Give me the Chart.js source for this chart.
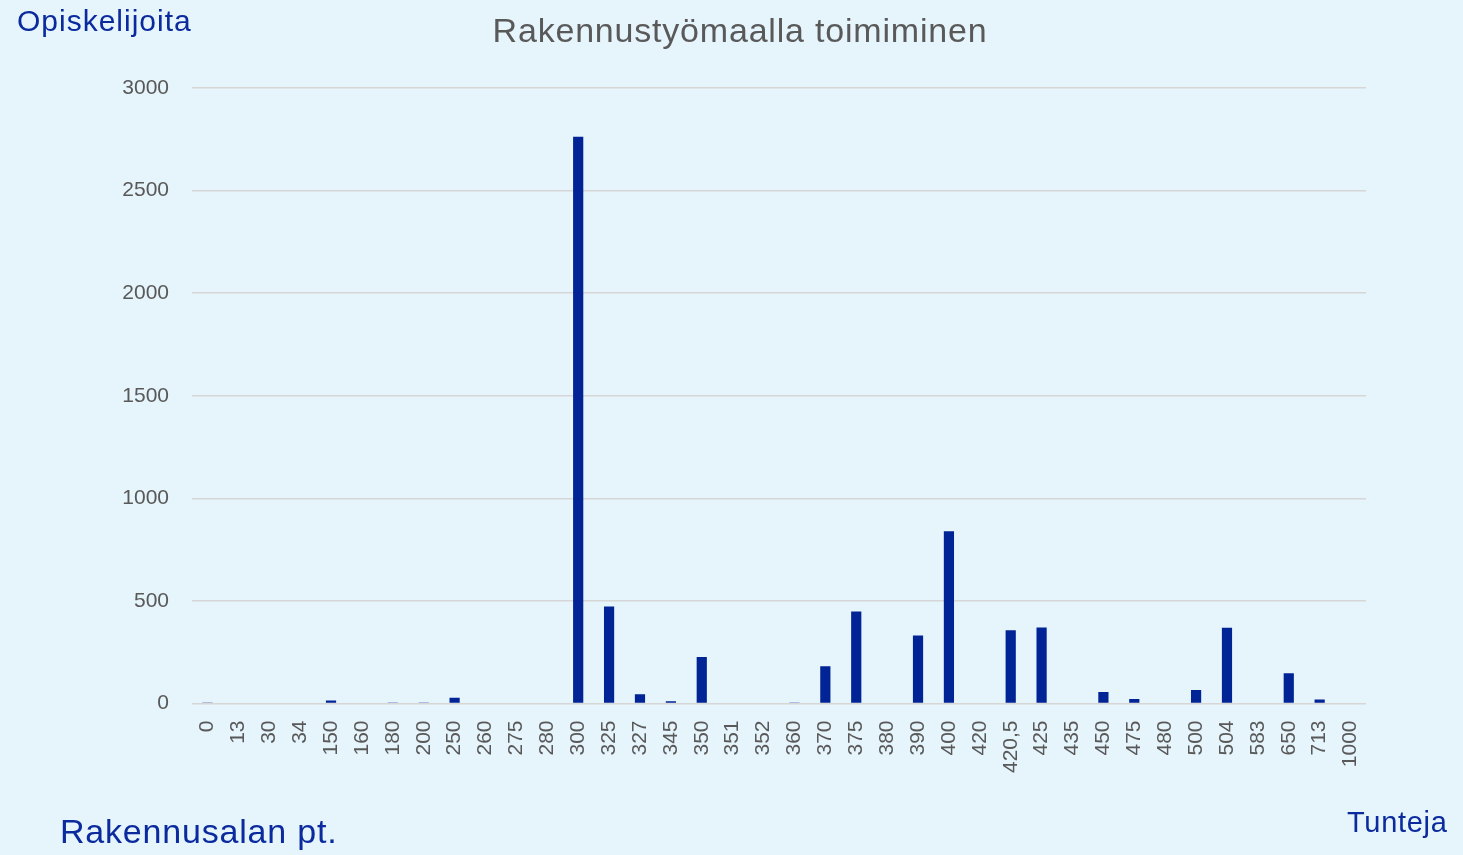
<!DOCTYPE html>
<html>
<head>
<meta charset="utf-8">
<script src="https://cdn.jsdelivr.net/npm/chart.js@4/dist/chart.umd.min.js"></script>
<style>
  html, body { margin: 0; padding: 0; background: #e6f4fc; }
  #wrap { position: relative; width: 1463px; height: 855px; overflow: hidden; background: #e6f4fc; font-family: "Liberation Sans", Arial, sans-serif; }
  #c { position: absolute; left: 0; top: 0; }
  .lbl { position: absolute; white-space: nowrap; line-height: 1; }
  #title { left: 0; width: 1480px; text-align: center; top: 13px; font-size: 34px; letter-spacing: 0.8px; color: #595959; }
  #ylab { left: 17px; top: 6px; font-size: 30px; letter-spacing: 1px; color: #0a2a9e; }
  #xlab { left: 1347px; top: 808px; font-size: 29px; letter-spacing: 0.7px; color: #0a2a9e; }
  #src { left: 60px; top: 814px; font-size: 34px; letter-spacing: 0.8px; color: #0a2a9e; }
</style>
</head>
<body>
<div id="wrap">
  <canvas id="c" width="1463" height="855"></canvas>
  <div class="lbl" id="title">Rakennustyömaalla toimiminen</div>
  <div class="lbl" id="ylab">Opiskelijoita</div>
  <div class="lbl" id="xlab">Tunteja</div>
  <div class="lbl" id="src">Rakennusalan pt.</div>
</div>
<script>
const categories = ["0","13","30","34","150","160","180","200","250","260","275","280","300","325","327","345","350","351","352","360","370","375","380","390","400","420","420,5","425","435","450","475","480","500","504","583","650","713","1000"];
const students = [3,0,0,0,15,0,3,3,28,0,0,0,2762,473,45,11,227,0,0,2,181,449,0,332,840,0,357,371,0,56,22,0,66,369,0,147,20,0];
const yTicks = [0,500,1000,1500,2000,2500,3000];

new Chart(document.getElementById('c'), {
  type: 'bar',
  data: {
    labels: categories,
    datasets: [{
      label: 'Opiskelijoita',
      data: students,
      backgroundColor: '#002395',
      borderWidth: 0,
      barPercentage: 0.33,
      categoryPercentage: 1.0
    }]
  },
  options: {
    responsive: false,
    animation: false,
    devicePixelRatio: 1,
    layout: { padding: { left: 0, right: 97, top: 88, bottom: 0 } },
    plugins: { legend: { display: false }, title: { display: false }, tooltip: { enabled: false } },
    scales: {
      x: {
        grid: { display: false, drawTicks: false },
        border: { display: false },
        afterFit: (s) => { s.height = 151.5; },
        ticks: {
          autoSkip: false,
          minRotation: 90,
          maxRotation: 90,
          padding: 17,
          color: '#595959',
          font: { family: '"Liberation Sans", Arial, sans-serif', size: 21 }
        }
      },
      y: {
        min: yTicks[0],
        max: yTicks[yTicks.length - 1],
        afterFit: (s) => { s.width = 192; },
        afterBuildTicks: (s) => { s.ticks = yTicks.map(v => ({ value: v })); },
        grid: { color: '#d6d6d6', lineWidth: 1.5, drawTicks: false },
        border: { display: false },
        ticks: {
          padding: 23,
          color: '#595959',
          font: { family: '"Liberation Sans", Arial, sans-serif', size: 21 },
          callback: (v) => String(v)
        }
      }
    }
  }
});
</script>
</body>
</html>
